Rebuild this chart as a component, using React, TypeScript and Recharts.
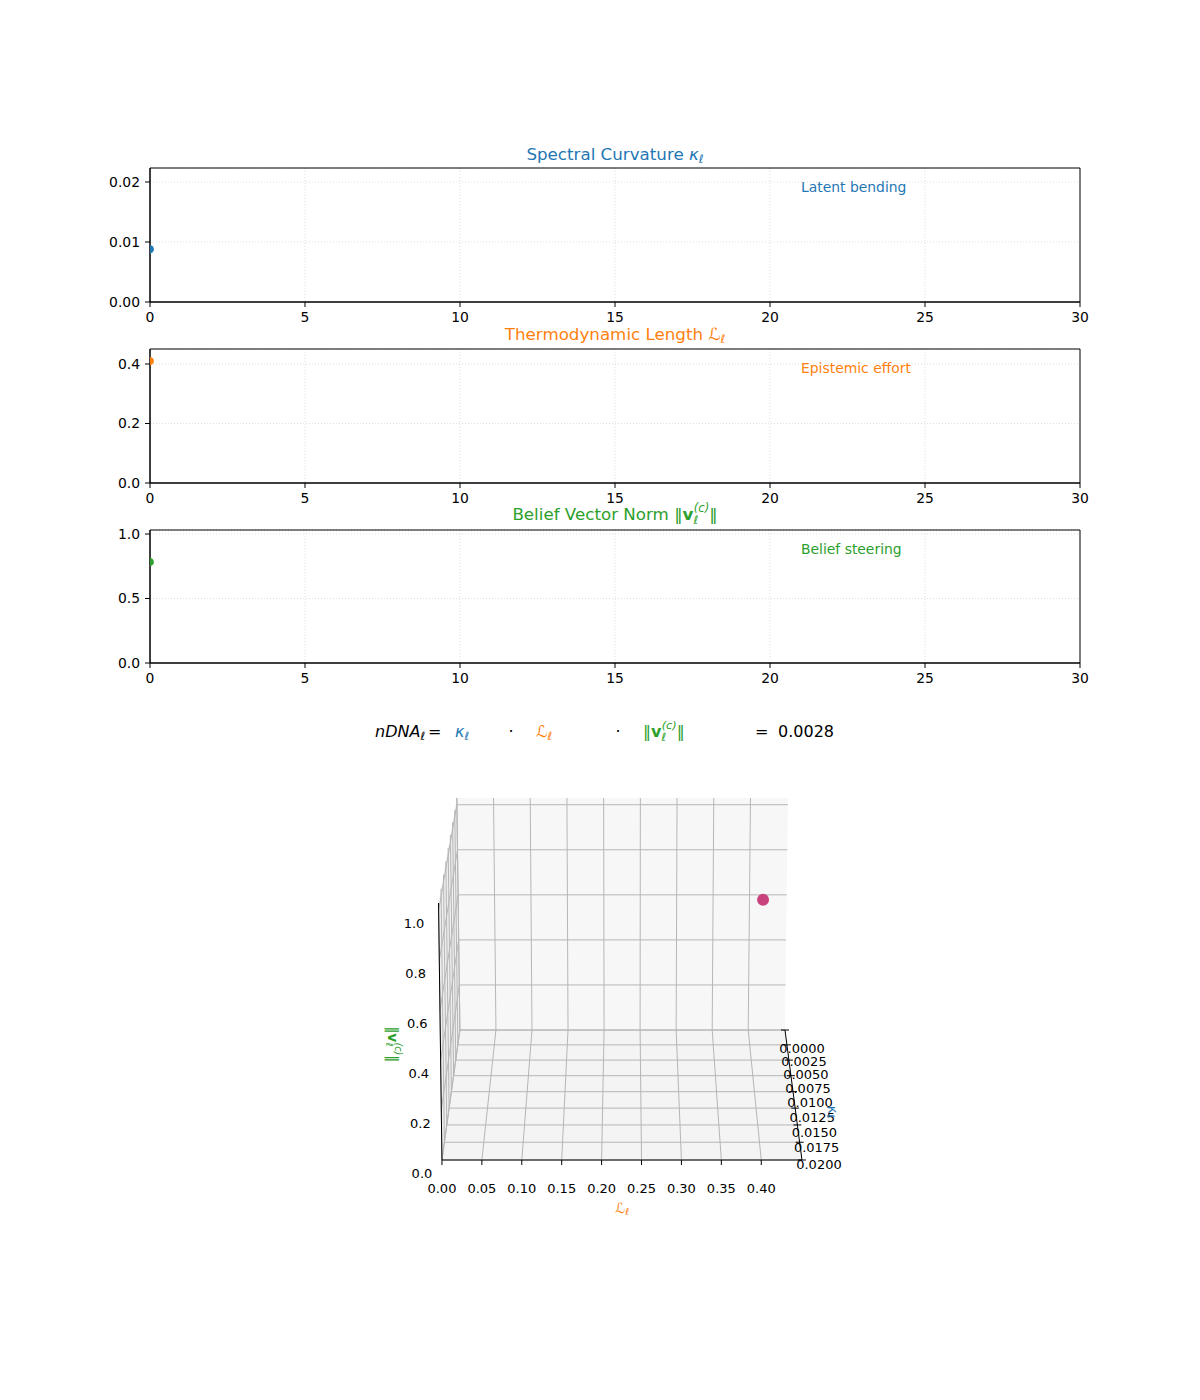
import React from 'react';
import {
  ScatterChart,
  Scatter,
  XAxis,
  YAxis,
  CartesianGrid,
  ReferenceArea,
  ReferenceLine,
} from 'recharts';

// ---------------- data ----------------
const layers = [0];
const kappaValues = [0.0088];
const lengthValues = [0.41];
const beliefValues = [0.783];

const layerTicks = [0, 5, 10, 15, 20, 25, 30];
const kappaTicks = [0, 0.01, 0.02];
const lengthTicks = [0, 0.2, 0.4];
const beliefTicks = [0, 0.5, 1.0];

const L3dTicks = [0, 0.05, 0.1, 0.15, 0.2, 0.25, 0.3, 0.35, 0.4];
const kappa3dTicks = [0, 0.0025, 0.005, 0.0075, 0.01, 0.0125, 0.015, 0.0175, 0.02];
const v3dTicks = [0, 0.2, 0.4, 0.6, 0.8, 1.0];

const BLUE = '#1f77b4';
const ORANGE = '#ff7f0e';
const GREEN = '#2ca02c';
const PINK = '#c8437b';
const FONT = 'DejaVu Sans, Verdana, sans-serif';

// ---------------- 2D panels ----------------
const halfDot = (color: string) => (p: any) => {
  const { cx, cy } = p;
  const r = 4.3;
  const x = cx - 0.4;
  return <path d={`M${x},${cy - r} A${r},${r} 0 0 1 ${x},${cy + r} Z`} fill={color} />;
};

function Panel(props: {
  plotTop: number;
  plotH: number;
  values: number[];
  color: string;
  yMax: number;
  yTicks: number[];
  digits: number;
}) {
  const { plotTop, plotH, values, color, yMax, yTicks, digits } = props;
  const data = layers.map((l, i) => ({ x: l, y: values[i] }));
  const mt = 10;
  const h = plotH + mt + 30;
  return (
    <div style={{ position: 'absolute', left: 0, top: plotTop - mt, width: 1200, height: h }}>
      <ScatterChart width={1200} height={h} margin={{ top: mt, right: 120, bottom: 0, left: 100 }}>
        <CartesianGrid stroke="#d6d6d6" strokeDasharray="1 2" strokeWidth={0.8} />
        <XAxis
          type="number"
          dataKey="x"
          domain={[0, 30]}
          ticks={layerTicks}
          interval={0}
          allowDataOverflow
          height={30}
          tickSize={5}
          tickMargin={5}
          axisLine={{ stroke: '#000', strokeWidth: 1 }}
          tickLine={{ stroke: '#000', strokeWidth: 1 }}
          tick={{ fill: '#000', fontSize: 13.9, fontFamily: FONT }}
        />
        <YAxis
          type="number"
          dataKey="y"
          domain={[0, yMax]}
          ticks={yTicks}
          interval={0}
          allowDataOverflow
          width={50}
          tickSize={5}
          tickMargin={5}
          tickFormatter={(v: number) => v.toFixed(digits)}
          axisLine={{ stroke: '#000', strokeWidth: 1 }}
          tickLine={{ stroke: '#000', strokeWidth: 1 }}
          tick={{ fill: '#000', fontSize: 13.9, fontFamily: FONT }}
        />
        <ReferenceArea x1={0} x2={30} y1={0} y2={yMax} fill="none" fillOpacity={0} stroke="#000" strokeWidth={1} ifOverflow="visible" />
        <Scatter data={data} fill={color} shape={halfDot(color)} isAnimationActive={false} />
      </ScatterChart>
    </div>
  );
}

// ---------------- 3D panel (projected) ----------------
const L_MAX = 0.451;
const K_MAX = 0.02;
const V_MAX = 1.03;
const CAM = { cx: 627, a0: 0.514, w: 360, tilt: 0.0185, persp: 0.1074, horizon: -180.2, front: 1160, h: 257 };

function proj(L: number, k: number, v: number) {
  const a = L / L_MAX;
  const b = k / K_MAX;
  const c = v / V_MAX;
  const s = 1 / (1 + CAM.persp * (1 - b));
  const px = CAM.cx + (a - CAM.a0) * CAM.w * s * (1 + CAM.tilt * c);
  const py = CAM.horizon + (CAM.front - CAM.horizon) * s - CAM.h * s * c;
  return { px, py };
}

const X0 = 370;
const X1 = 870;
const Y0 = 780;
const Y1 = 1230;

type P = { px: number; py: number };

function pane(corners: P[], fill: string, key: string) {
  const xs = corners.map((c) => c.px);
  const ys = corners.map((c) => c.py);
  const minX = Math.min(...xs);
  const maxX = Math.max(...xs);
  const minY = Math.min(...ys);
  const maxY = Math.max(...ys);
  const shape = (p: any) => {
    const pts = corners
      .map((c) => {
        const x = p.x + ((c.px - minX) / (maxX - minX)) * p.width;
        const y = p.y + ((c.py - minY) / (maxY - minY)) * p.height;
        return `${x},${y}`;
      })
      .join(' ');
    return <polygon points={pts} fill={fill} stroke="none" />;
  };
  return (
    <ReferenceArea key={key} x1={minX} x2={maxX} y1={minY} y2={maxY} ifOverflow="visible" shape={shape} />
  );
}

function seg(a: P, b: P, color: string, w: number, key: string) {
  return (
    <ReferenceLine
      key={key}
      segment={[
        { x: a.px, y: a.py },
        { x: b.px, y: b.py },
      ]}
      stroke={color}
      strokeWidth={w}
      ifOverflow="visible"
    />
  );
}

const labelShape = (p: any) => {
  const { cx, cy, payload } = p;
  const k = payload.kind;
  if (k === 'tick') {
    return (
      <text x={cx} y={cy} textAnchor="middle" dominantBaseline="central" fontSize={13} fontFamily={FONT} fill="#000">
        {payload.text}
      </text>
    );
  }
  if (k === 'Lname') {
    return (
      <text x={cx} y={cy} textAnchor="middle" dominantBaseline="central" fontSize={13.9} fontFamily={FONT} fill={ORANGE}>
        <tspan fontStyle="italic">ℒ</tspan>
        <tspan fontSize={9.7} dy={3} fontStyle="italic">ℓ</tspan>
      </text>
    );
  }
  if (k === 'Kname') {
    return (
      <text x={cx} y={cy} textAnchor="middle" dominantBaseline="central" fontSize={13.9} fontFamily={FONT} fill={BLUE} transform={`rotate(78 ${cx} ${cy})`}>
        <tspan fontStyle="italic">κ</tspan>
        <tspan fontSize={9.7} dy={3} fontStyle="italic">ℓ</tspan>
      </text>
    );
  }
  if (k === 'Vname') {
    return (
      <text x={cx} y={cy} textAnchor="middle" dominantBaseline="central" fontSize={13.9} fontFamily={FONT} fill={GREEN} transform={`rotate(90 ${cx} ${cy})`}>
        <tspan>‖</tspan>
        <tspan fontWeight="bold">v</tspan>
        <tspan fontSize={9.7} dy={3} fontStyle="italic">ℓ</tspan>
        <tspan fontSize={9.7} dx={-4} dy={-9} fontStyle="italic">(c)</tspan>
        <tspan dy={6}>‖</tspan>
      </text>
    );
  }
  return null;
};

function Chart3D() {
  const panes = [
    pane([proj(0, 0, 0), proj(L_MAX, 0, 0), proj(L_MAX, 0, V_MAX), proj(0, 0, V_MAX)], '#f7f7f7', 'back'),
    pane([proj(0, 0, 0), proj(L_MAX, 0, 0), proj(L_MAX, K_MAX, 0), proj(0, K_MAX, 0)], '#f4f4f4', 'floor'),
    pane([proj(0, 0, 0), proj(0, K_MAX, 0), proj(0, K_MAX, V_MAX), proj(0, 0, V_MAX)], '#eeeeee', 'left'),
  ];
  const GC = '#b6b6b6';
  const GW = 1;
  const grid: React.ReactNode[] = [];
  L3dTicks.forEach((L, i) => grid.push(seg(proj(L, 0, 0), proj(L, 0, V_MAX), GC, GW, `bv${i}`)));
  v3dTicks.forEach((v, i) => grid.push(seg(proj(0, 0, v), proj(L_MAX, 0, v), GC, GW, `bh${i}`)));
  L3dTicks.forEach((L, i) => grid.push(seg(proj(L, 0, 0), proj(L, K_MAX, 0), GC, GW, `fl${i}`)));
  kappa3dTicks.forEach((k, i) => grid.push(seg(proj(0, k, 0), proj(L_MAX, k, 0), GC, GW, `fk${i}`)));
  kappa3dTicks.forEach((k, i) => grid.push(seg(proj(0, k, 0), proj(0, k, V_MAX), GC, GW, `lk${i}`)));
  v3dTicks.forEach((v, i) => grid.push(seg(proj(0, 0, v), proj(0, K_MAX, v), GC, GW, `lv${i}`)));

  const axes: React.ReactNode[] = [
    seg(proj(0, K_MAX, 0), proj(L_MAX, K_MAX, 0), '#000', 1, 'axL'),
    seg(proj(L_MAX, 0, 0), proj(L_MAX, K_MAX, 0), '#000', 1, 'axK'),
    seg(proj(0, K_MAX, 0), proj(0, K_MAX, V_MAX), '#000', 1, 'axV'),
  ];
  L3dTicks.forEach((L, i) => {
    const p = proj(L, K_MAX, 0);
    axes.push(seg(p, { px: p.px, py: p.py + 5 }, '#000', 1, `tL${i}`));
  });
  kappa3dTicks.forEach((k, i) => {
    const p = proj(L_MAX, k, 0);
    axes.push(seg({ px: p.px - 4, py: p.py }, { px: p.px + 4, py: p.py }, '#000', 1, `tK${i}`));
  });

  const labels: any[] = [];
  L3dTicks.forEach((L) => {
    const p = proj(L, K_MAX, 0);
    labels.push({ px: p.px, py: p.py + 28, text: L.toFixed(2), kind: 'tick' });
  });
  v3dTicks.forEach((v) => {
    const p = proj(0, K_MAX, v);
    const c = v / V_MAX;
    labels.push({ px: p.px - 20 - 4.7 * c, py: p.py + 13, text: v.toFixed(1), kind: 'tick' });
  });
  kappa3dTicks.forEach((k) => {
    const p = proj(L_MAX, k, 0);
    const b = k / K_MAX;
    labels.push({ px: p.px + 17, py: p.py + 18 - 14 * b, text: k.toFixed(4), kind: 'tick' });
  });
  const lName = proj(L_MAX / 2, K_MAX, 0);
  labels.push({ px: lName.px, py: lName.py + 48, text: '', kind: 'Lname' });
  const vName = proj(0, K_MAX, V_MAX * 0.45);
  labels.push({ px: vName.px - 47, py: vName.py, text: '', kind: 'Vname' });
  const kName = proj(L_MAX, K_MAX * 0.62, 0);
  labels.push({ px: kName.px + 38, py: kName.py + 4, text: '', kind: 'Kname' });

  const point = layers.map((_, i) => proj(lengthValues[i], kappaValues[i], beliefValues[i]));

  return (
    <div style={{ position: 'absolute', left: X0, top: Y0, width: X1 - X0, height: Y1 - Y0 }}>
      <ScatterChart width={X1 - X0} height={Y1 - Y0} margin={{ top: 0, right: 0, bottom: 0, left: 0 }}>
        <XAxis type="number" dataKey="px" domain={[X0, X1]} hide allowDataOverflow />
        <YAxis type="number" dataKey="py" domain={[Y0, Y1]} reversed hide allowDataOverflow />
        {panes}
        {grid}
        {axes}
        <Scatter
          data={point}
          fill={PINK}
          isAnimationActive={false}
          shape={(p: any) => <circle cx={p.cx} cy={p.cy} r={6} fill={PINK} />}
        />
        <Scatter data={labels} isAnimationActive={false} shape={labelShape} />
      </ScatterChart>
    </div>
  );
}

// ---------------- overlay texts ----------------
function Overlay() {
  const nDNA = kappaValues[0] * lengthValues[0] * beliefValues[0];
  const TS = 16.7;
  const SS = 11.7;
  const ES = 16;
  const ESS = 11.2;
  return (
    <svg width={1200} height={1400} style={{ position: 'absolute', left: 0, top: 0 }} fontFamily={FONT}>
      <text x={615} y={160} textAnchor="middle" fontSize={TS} fill={BLUE}>
        <tspan>Spectral Curvature </tspan>
        <tspan fontStyle="italic">κ</tspan>
        <tspan fontSize={SS} dy={3} fontStyle="italic">ℓ</tspan>
      </text>
      <text x={615} y={340} textAnchor="middle" fontSize={TS} fill={ORANGE}>
        <tspan>Thermodynamic Length </tspan>
        <tspan fontStyle="italic">ℒ</tspan>
        <tspan fontSize={SS} dy={3} fontStyle="italic">ℓ</tspan>
      </text>
      <text x={615} y={520} textAnchor="middle" fontSize={TS} fill={GREEN}>
        <tspan>Belief Vector Norm ‖</tspan>
        <tspan fontWeight="bold">v</tspan>
        <tspan fontSize={SS} dy={4} fontStyle="italic">ℓ</tspan>
        <tspan fontSize={SS} dx={-4.5} dy={-12} fontStyle="italic">(c)</tspan>
        <tspan dy={8}>‖</tspan>
      </text>

      <text x={801} y={192} fontSize={13.9} fill={BLUE}>Latent bending</text>
      <text x={801} y={373} fontSize={13.9} fill={ORANGE}>Epistemic effort</text>
      <text x={801} y={554} fontSize={13.9} fill={GREEN}>Belief steering</text>

      <text x={375} y={737} fontSize={ES} fill="#000">
        <tspan fontStyle="italic">nDNA</tspan>
        <tspan fontSize={ESS} dy={3} fontStyle="italic">ℓ</tspan>
      </text>
      <text x={428} y={737} fontSize={ES} fill="#000">=</text>
      <text x={455} y={737} fontSize={ES} fill={BLUE}>
        <tspan fontStyle="italic">κ</tspan>
        <tspan fontSize={ESS} dy={3} fontStyle="italic">ℓ</tspan>
      </text>
      <text x={511} y={737} fontSize={ES} fill="#000" textAnchor="middle">·</text>
      <text x={536} y={737} fontSize={ES} fill={ORANGE}>
        <tspan fontStyle="italic">ℒ</tspan>
        <tspan fontSize={ESS} dy={3} fontStyle="italic">ℓ</tspan>
      </text>
      <text x={618} y={737} fontSize={ES} fill="#000" textAnchor="middle">·</text>
      <text x={643} y={737} fontSize={ES} fill={GREEN}>
        <tspan>‖</tspan>
        <tspan fontWeight="bold">v</tspan>
        <tspan fontSize={ESS} dy={4} fontStyle="italic">ℓ</tspan>
        <tspan fontSize={ESS} dx={-4.3} dy={-12} fontStyle="italic">(c)</tspan>
        <tspan dy={8}>‖</tspan>
      </text>
      <text x={755} y={737} fontSize={ES} fill="#000">=</text>
      <text x={778} y={737} fontSize={ES} fill="#000">{nDNA.toFixed(4)}</text>
    </svg>
  );
}

export default function App() {
  return (
    <div style={{ position: 'absolute', left: 0, top: 0, width: 1200, height: 1400, background: '#fff', fontFamily: FONT }}>
      <Panel plotTop={168} plotH={134} values={kappaValues} color={BLUE} yMax={0.02233} yTicks={kappaTicks} digits={2} />
      <Panel plotTop={349} plotH={134} values={lengthValues} color={ORANGE} yMax={0.4504} yTicks={lengthTicks} digits={1} />
      <Panel plotTop={530} plotH={133} values={beliefValues} color={GREEN} yMax={1.031} yTicks={beliefTicks} digits={1} />
      <Chart3D />
      <Overlay />
    </div>
  );
}
